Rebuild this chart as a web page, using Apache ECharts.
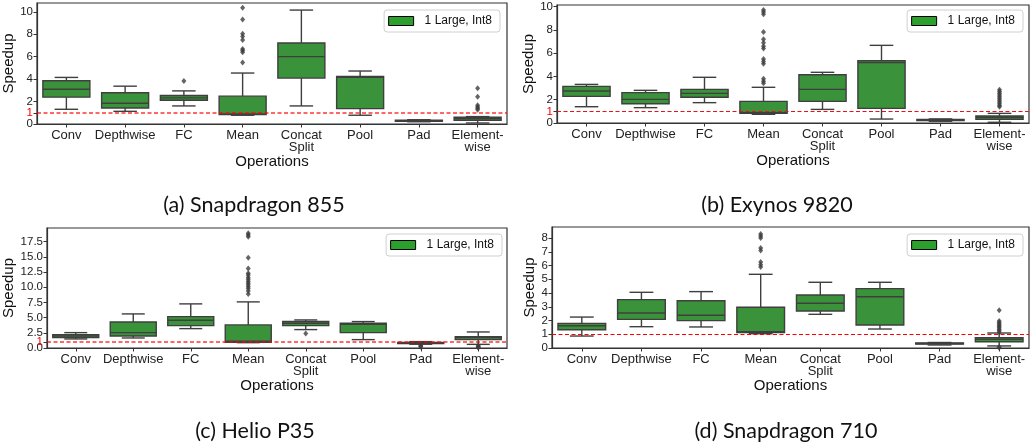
<!DOCTYPE html>
<html>
<head>
<meta charset="utf-8">
<script src="https://cdn.jsdelivr.net/npm/echarts@6/dist/echarts.min.js"></script>
<style>
html,body{margin:0;padding:0;background:#fff;}
#chart{width:1036px;height:448px;}
</style>
</head>
<body>
<div id="chart"></div>
<script>
// ---------------- DATA ----------------
const categories = ['Conv', 'Depthwise', 'FC', 'Mean', 'Concat\nSplit', 'Pool', 'Pad', 'Element-\nwise'];
const legendName = '1 Large, Int8';

// box stats per category: [min whisker, Q1, median, Q3, max whisker]
const sd855Boxes = [
  [1.31, 2.39, 3.10, 3.85, 4.15],
  [1.13, 1.43, 1.85, 2.78, 3.37],
  [1.61, 2.12, 2.33, 2.54, 2.95],
  [0.78, 0.85, 0.88, 2.48, 4.54],
  [1.61, 4.09, 6.00, 7.22, 10.15],
  [0.78, 1.37, 4.15, 4.24, 4.72],
  [0.20, 0.24, 0.28, 0.33, 0.38],
  [0.09, 0.33, 0.48, 0.60, 0.66]
];
const sd855Outliers = [
  [2, 3.82],
  [3, 10.36], [3, 9.31], [3, 8.03], [3, 7.79], [3, 7.49], [3, 6.69], [3, 6.54], [3, 6.39], [3, 5.49],
  [7, 3.19], [7, 2.42], [7, 1.67], [7, 1.52], [7, 1.40], [7, 1.28]
];

const ex9820Boxes = [
  [1.40, 2.29, 2.75, 3.15, 3.32],
  [1.32, 1.66, 2.03, 2.61, 2.81],
  [1.75, 2.21, 2.55, 2.89, 3.93],
  [0.75, 0.83, 0.89, 1.86, 3.07],
  [1.17, 1.86, 2.89, 4.15, 4.36],
  [0.34, 1.26, 5.19, 5.36, 6.68],
  [0.15, 0.20, 0.25, 0.30, 0.35],
  [0.06, 0.32, 0.49, 0.60, 0.83]
];
const ex9820Outliers = [
  [3, 9.72], [3, 9.55], [3, 9.35], [3, 7.82], [3, 7.20], [3, 6.90], [3, 6.60], [3, 6.40],
  [3, 5.50], [3, 5.30], [3, 5.10], [3, 3.80], [3, 3.60], [3, 3.42],
  [7, 2.85], [7, 2.70], [7, 2.55], [7, 2.40], [7, 2.25], [7, 2.10], [7, 1.95], [7, 1.80], [7, 1.65], [7, 1.50], [7, 1.40]
];

const p35Boxes = [
  [1.49, 1.71, 1.98, 2.20, 2.53],
  [1.65, 1.98, 2.53, 4.29, 5.61],
  [3.19, 3.69, 4.57, 5.17, 7.26],
  [0.88, 0.94, 1.10, 3.80, 7.59],
  [3.03, 3.69, 4.07, 4.35, 4.62],
  [1.38, 2.53, 3.90, 4.07, 4.35],
  [0.62, 0.72, 0.85, 0.90, 1.05],
  [0.60, 1.38, 1.71, 1.87, 2.64]
];
const p35Outliers = [
  [3, 18.9], [3, 18.6], [3, 18.3], [3, 14.86], [3, 13.1], [3, 12.3], [3, 12.0], [3, 11.6], [3, 11.3],
  [3, 11.0], [3, 10.7], [3, 10.4], [3, 10.1], [3, 9.8], [3, 9.4], [3, 8.9],
  [4, 2.37],
  [6, 0.44], [6, 0.30], [6, 0.20],
  [7, 0.39], [7, 0.25], [7, 0.15], [7, 0.05]
];

const sd710Boxes = [
  [0.87, 1.33, 1.62, 1.79, 2.25],
  [1.55, 2.08, 2.55, 3.52, 4.05],
  [1.53, 1.99, 2.38, 3.44, 4.10],
  [1.04, 1.12, 1.19, 2.96, 5.36],
  [2.45, 2.69, 3.25, 3.85, 4.78],
  [1.38, 1.67, 3.73, 4.32, 4.78],
  [0.22, 0.28, 0.33, 0.36, 0.40],
  [0.15, 0.46, 0.63, 0.75, 1.09]
];
const sd710Outliers = [
  [3, 8.30], [3, 8.15], [3, 8.00], [3, 7.27], [3, 7.10], [3, 6.25], [3, 6.05], [3, 5.90],
  [7, 2.74], [7, 1.96], [7, 1.85], [7, 1.75], [7, 1.65], [7, 1.55], [7, 1.45], [7, 1.35], [7, 1.25], [7, 1.15],
  [7, 0.07], [7, 0.02]
];

// y tick labels
const ticksA = [0, 2, 4, 6, 8, 10];
const ticksB = [0, 2, 4, 6, 8, 10];
const ticksC = [0, 2.5, 5, 7.5, 10, 12.5, 15, 17.5];
const ticksD = [0, 1, 2, 3, 4, 5, 6, 7, 8];
const captions = ['(a) Snapdragon 855', '(b) Exynos 9820', '(c) Helio P35', '(d) Snapdragon 710'];

// ---------------- CHART ----------------
const FONT = 'Liberation Sans, Arial, sans-serif';
const BOX_FILL = '#3a923a';
const EDGE = '#3f3f3f';

function renderBox(params, api) {
  const i = api.value(0);
  const pMin = api.coord([i, api.value(1)]);
  const pQ1 = api.coord([i, api.value(2)]);
  const pMed = api.coord([i, api.value(3)]);
  const pQ3 = api.coord([i, api.value(4)]);
  const pMax = api.coord([i, api.value(5)]);
  const band = api.size([1, 0])[0];
  const w = band * 0.8, cw = w * 0.5, cx = pMed[0];
  const ls = { stroke: EDGE, lineWidth: 1.4 };
  return {
    type: 'group',
    children: [
      { type: 'line', shape: { x1: cx, y1: pQ1[1], x2: cx, y2: pMin[1] }, style: ls },
      { type: 'line', shape: { x1: cx, y1: pQ3[1], x2: cx, y2: pMax[1] }, style: ls },
      { type: 'line', shape: { x1: cx - cw / 2, y1: pMin[1], x2: cx + cw / 2, y2: pMin[1] }, style: ls },
      { type: 'line', shape: { x1: cx - cw / 2, y1: pMax[1], x2: cx + cw / 2, y2: pMax[1] }, style: ls },
      { type: 'rect', shape: { x: cx - w / 2, y: pQ3[1], width: w, height: Math.max(pQ1[1] - pQ3[1], 1) },
        style: { fill: BOX_FILL, stroke: EDGE, lineWidth: 1.4 } },
      { type: 'line', shape: { x1: cx - w / 2, y1: pMed[1], x2: cx + w / 2, y2: pMed[1] }, style: ls }
    ]
  };
}

const panels = [
  { boxes: sd855Boxes, outliers: sd855Outliers, ticks: ticksA, max: 10.78, redOne: true,
    grid: { left: 37, top: 3, width: 470, height: 121 }, yGap: 21, xGap: 27,
    line: { color: 'rgba(255,0,0,0.6)', width: 2 }, legend: { right: 536, top: 10 }, fmt: v => String(v) },
  { boxes: ex9820Boxes, outliers: ex9820Outliers, ticks: ticksB, max: 10.15, redOne: true,
    grid: { left: 557, top: 5, width: 472, height: 118 }, yGap: 19, xGap: 28,
    line: { color: '#e8121a', width: 1 }, legend: { right: 13, top: 10 }, fmt: v => String(v) },
  { boxes: p35Boxes, outliers: p35Outliers, ticks: ticksC, max: 19.75, redOne: true,
    grid: { left: 47, top: 228, width: 460, height: 120 }, yGap: 30, xGap: 27,
    line: { color: 'rgba(255,0,0,0.6)', width: 2 }, legend: { right: 534, top: 234 }, fmt: v => v.toFixed(1) },
  { boxes: sd710Boxes, outliers: sd710Outliers, ticks: ticksD, max: 8.8, redOne: false,
    grid: { left: 552, top: 227, width: 477, height: 121 }, yGap: 14, xGap: 27,
    line: { color: 'red', width: 1 }, legend: { right: 13, top: 234 }, fmt: v => String(v) }
];

const option = {
  animation: false,
  backgroundColor: '#fff',
  textStyle: { fontFamily: FONT },
  grid: [], xAxis: [], yAxis: [], series: [], legend: [],
  graphic: []
};

panels.forEach((p, k) => {
  option.grid.push(Object.assign({ show: true, borderColor: '#333', borderWidth: 1.2, containLabel: false }, p.grid));
  option.xAxis.push({
    type: 'category', gridIndex: k, data: categories,
    name: 'Operations', nameLocation: 'middle', nameGap: p.xGap,
    nameTextStyle: { fontSize: 15, color: '#111', fontFamily: FONT },
    axisLine: { show: true, lineStyle: { color: '#333', width: 1.2 } },
    axisTick: { show: true, alignWithLabel: true, length: 3.5, lineStyle: { color: '#333' } },
    axisLabel: { interval: 0, fontSize: 13, color: '#222', lineHeight: 12, margin: 5, fontFamily: FONT },
    splitLine: { show: false }
  });
  const custom = p.redOne ? p.ticks.concat([1]) : p.ticks;
  option.yAxis.push({
    type: 'value', gridIndex: k, min: 0, max: p.max,
    name: 'Speedup', nameLocation: 'middle', nameGap: p.yGap, nameRotate: 90,
    nameTextStyle: { fontSize: 15, color: '#111', fontFamily: FONT, verticalAlign: 'bottom' },
    axisLine: { show: true, lineStyle: { color: '#333', width: 1.2 } },
    axisTick: { show: true, length: 3.5, lineStyle: { color: '#333' }, customValues: custom },
    axisLabel: {
      fontSize: 11.5, color: '#222', margin: 4, fontFamily: FONT, customValues: custom,
      formatter: v => (p.redOne && v === 1) ? '{r|1}' : p.fmt(v),
      rich: { r: { color: 'red', fontSize: 11.5, fontFamily: FONT } }
    },
    splitLine: { show: false }
  });
  option.series.push({
    type: 'custom', name: legendName, xAxisIndex: k, yAxisIndex: k,
    renderItem: renderBox,
    itemStyle: { color: '#2ca02c' },
    encode: { x: 0, y: [1, 2, 3, 4, 5] },
    data: p.boxes.map((b, i) => [i].concat(b)),
    markLine: {
      silent: true, symbol: 'none', label: { show: false },
      lineStyle: { color: p.line.color, width: p.line.width, type: [4, 2.5] },
      data: [{ yAxis: 1 }]
    },
    z: 2
  });
  option.series.push({
    type: 'scatter', name: 'outliers', xAxisIndex: k, yAxisIndex: k,
    symbol: 'diamond', symbolSize: [5, 6],
    itemStyle: { color: '#3d3d3d' },
    data: p.outliers, z: 3
  });
  option.legend.push({
    right: p.legend.right, top: p.legend.top,
    data: [{ name: legendName, icon: 'rect', itemStyle: { color: '#2ca02c', borderColor: '#000', borderWidth: 1 } }],
    itemWidth: 25, itemHeight: 9,
    padding: [5, 8, 5, 4],
    backgroundColor: '#fff', borderColor: '#d0d0d0', borderWidth: 1, borderRadius: 3,
    textStyle: { fontSize: 12, color: '#111', fontFamily: FONT, padding: [0, 0, 0, 6] },
    selectedMode: false
  });
});

const capPos = [[254, 205], [777, 205], [255, 431], [786, 431]];
captions.forEach((c, i) => {
  option.graphic.push({
    type: 'text', x: capPos[i][0], y: capPos[i][1],
    style: { text: c, font: '21.5px Lato, "Open Sans", sans-serif', fill: '#111', textAlign: 'center', textVerticalAlign: 'middle' }
  });
});

const chart = echarts.init(document.getElementById('chart'), null, { renderer: 'canvas' });
chart.setOption(option);
</script>
</body>
</html>
